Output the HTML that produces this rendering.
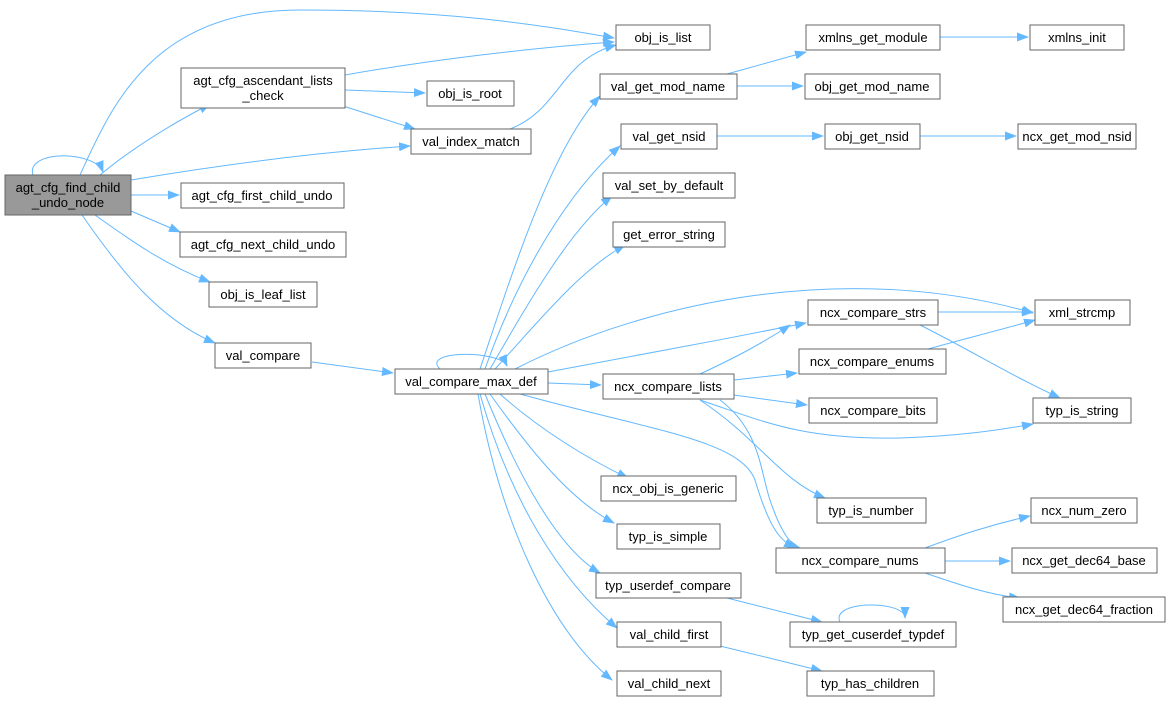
<!DOCTYPE html>
<html><head><meta charset="utf-8"><style>
html,body{margin:0;padding:0;background:#fff;}
svg{display:block;}
text{font-family:"Liberation Sans",Arial,sans-serif;font-size:13px;fill:#000;text-anchor:middle;}
.n{fill:#fff;stroke:#666;stroke-width:1;}
.e{fill:none;stroke:#63b8ff;stroke-width:1;}
</style></head><body>
<svg width="1169" height="704" viewBox="0 0 1169 704" xmlns="http://www.w3.org/2000/svg">
<defs><marker id="a" markerWidth="12" markerHeight="9" refX="11" refY="4.5" orient="auto" markerUnits="userSpaceOnUse"><path d="M0,0 L12,4.5 L0,9 z" fill="#63b8ff"/></marker></defs>
<g class="e" marker-end="url(#a)">
<path d="M33,175 C25,150 95,150 103,172"/>
<path d="M80,175 C110,110 150,10 300,10 C450,10 540,25 614,38"/>
<path d="M100,175 C130,150 170,125 210,104"/>
<path d="M131,180 C220,165 320,152 410,146"/>
<path d="M131,195 L179,195"/>
<path d="M131,211 L180,232"/>
<path d="M95,215 C130,240 165,265 210,282"/>
<path d="M82,215 C120,270 160,320 215,343"/>
<path d="M345,75 C430,60 530,48 614,42"/>
<path d="M345,90 L425,93"/>
<path d="M340,105 L415,129"/>
<path d="M510,129 C560,110 560,60 616,45"/>
<path d="M312,362 L393,373"/>
<path d="M440,369 C420,350 500,350 507,366"/>
<path d="M480,369 C510,280 550,150 600,96"/>
<path d="M485,369 C520,270 570,190 620,146"/>
<path d="M490,369 C530,300 570,230 612,196"/>
<path d="M495,369 C540,320 580,270 625,245"/>
<path d="M515,369 C650,300 850,260 1033,313"/>
<path d="M548,372 C640,355 720,340 806,323"/>
<path d="M548,383 L601,385"/>
<path d="M500,394 C540,430 590,460 628,478"/>
<path d="M490,394 C530,450 570,500 614,523"/>
<path d="M485,394 C520,480 560,550 600,573"/>
<path d="M480,394 C510,500 560,580 617,628"/>
<path d="M478,394 C500,520 550,630 612,680"/>
<path d="M520,394 C650,430 740,440 755,480 C770,530 780,540 795,548"/>
<path d="M737,86 L803,86"/>
<path d="M727,74 L806,52"/>
<path d="M940,37 L1028,37"/>
<path d="M717,136 L823,136"/>
<path d="M920,136 L1016,136"/>
<path d="M938,312 L1033,312"/>
<path d="M920,325 C970,350 1010,375 1060,398"/>
<path d="M928,349 C960,340 1000,330 1035,320"/>
<path d="M700,374 C730,360 760,345 790,325"/>
<path d="M734,380 L797,373"/>
<path d="M734,395 L807,405"/>
<path d="M700,400 C760,420 800,440 900,438 C960,436 1000,430 1033,424"/>
<path d="M700,400 C760,440 780,480 825,498"/>
<path d="M720,400 C760,430 760,470 770,500 C780,530 790,545 800,548"/>
<path d="M925,548 C960,535 990,525 1030,516"/>
<path d="M945,561 L1010,561"/>
<path d="M925,573 C960,585 990,595 1020,598"/>
<path d="M727,598 L822,622"/>
<path d="M840,622 C830,600 905,600 905,618"/>
<path d="M720,646 L822,671"/>
</g>
<rect x="5" y="175" width="126" height="40" fill="#999" stroke="#666"/>
<text x="68" y="192">agt_cfg_find_child</text><text x="68" y="207">_undo_node</text>
<g>
<rect class="n" x="616" y="25" width="94" height="25"/><text x="663" y="42">obj_is_list</text>
<rect class="n" x="181" y="68" width="164" height="40"/><text x="263" y="85">agt_cfg_ascendant_lists</text><text x="263" y="100">_check</text>
<rect class="n" x="427" y="81" width="87" height="25"/><text x="470" y="98">obj_is_root</text>
<rect class="n" x="411" y="129" width="120" height="25"/><text x="471" y="146">val_index_match</text>
<rect class="n" x="181" y="183" width="163" height="25"/><text x="262" y="200">agt_cfg_first_child_undo</text>
<rect class="n" x="180" y="232" width="166" height="25"/><text x="263" y="249">agt_cfg_next_child_undo</text>
<rect class="n" x="209" y="282" width="108" height="25"/><text x="263" y="299">obj_is_leaf_list</text>
<rect class="n" x="215" y="343" width="96" height="25"/><text x="263" y="360">val_compare</text>
<rect class="n" x="395" y="369" width="153" height="25"/><text x="471" y="386">val_compare_max_def</text>
<rect class="n" x="600" y="74" width="137" height="25"/><text x="668" y="91">val_get_mod_name</text>
<rect class="n" x="806" y="25" width="134" height="25"/><text x="873" y="42">xmlns_get_module</text>
<rect class="n" x="1030" y="25" width="94" height="25"/><text x="1077" y="42">xmlns_init</text>
<rect class="n" x="805" y="74" width="135" height="25"/><text x="872" y="91">obj_get_mod_name</text>
<rect class="n" x="621" y="124" width="96" height="25"/><text x="669" y="141">val_get_nsid</text>
<rect class="n" x="825" y="124" width="95" height="25"/><text x="872" y="141">obj_get_nsid</text>
<rect class="n" x="1018" y="124" width="118" height="25"/><text x="1077" y="141">ncx_get_mod_nsid</text>
<rect class="n" x="603" y="173" width="132" height="25"/><text x="669" y="190">val_set_by_default</text>
<rect class="n" x="613" y="222" width="112" height="25"/><text x="669" y="239">get_error_string</text>
<rect class="n" x="1035" y="300" width="95" height="25"/><text x="1082" y="317">xml_strcmp</text>
<rect class="n" x="808" y="300" width="130" height="25"/><text x="873" y="317">ncx_compare_strs</text>
<rect class="n" x="799" y="349" width="147" height="25"/><text x="872" y="366">ncx_compare_enums</text>
<rect class="n" x="603" y="374" width="131" height="25"/><text x="668" y="391">ncx_compare_lists</text>
<rect class="n" x="809" y="398" width="128" height="25"/><text x="873" y="415">ncx_compare_bits</text>
<rect class="n" x="1033" y="398" width="98" height="25"/><text x="1082" y="415">typ_is_string</text>
<rect class="n" x="601" y="476" width="135" height="25"/><text x="668" y="493">ncx_obj_is_generic</text>
<rect class="n" x="817" y="498" width="109" height="25"/><text x="871" y="515">typ_is_number</text>
<rect class="n" x="1031" y="498" width="106" height="25"/><text x="1084" y="515">ncx_num_zero</text>
<rect class="n" x="617" y="524" width="103" height="25"/><text x="668" y="541">typ_is_simple</text>
<rect class="n" x="776" y="548" width="169" height="25"/><text x="860" y="565">ncx_compare_nums</text>
<rect class="n" x="1012" y="548" width="145" height="25"/><text x="1084" y="565">ncx_get_dec64_base</text>
<rect class="n" x="596" y="573" width="145" height="25"/><text x="668" y="590">typ_userdef_compare</text>
<rect class="n" x="1003" y="597" width="162" height="25"/><text x="1084" y="614">ncx_get_dec64_fraction</text>
<rect class="n" x="790" y="622" width="166" height="25"/><text x="873" y="639">typ_get_cuserdef_typdef</text>
<rect class="n" x="617" y="622" width="104" height="25"/><text x="669" y="639">val_child_first</text>
<rect class="n" x="807" y="671" width="127" height="25"/><text x="870" y="688">typ_has_children</text>
<rect class="n" x="617" y="671" width="104" height="25"/><text x="669" y="688">val_child_next</text>
</g>
</svg>
</body></html>
